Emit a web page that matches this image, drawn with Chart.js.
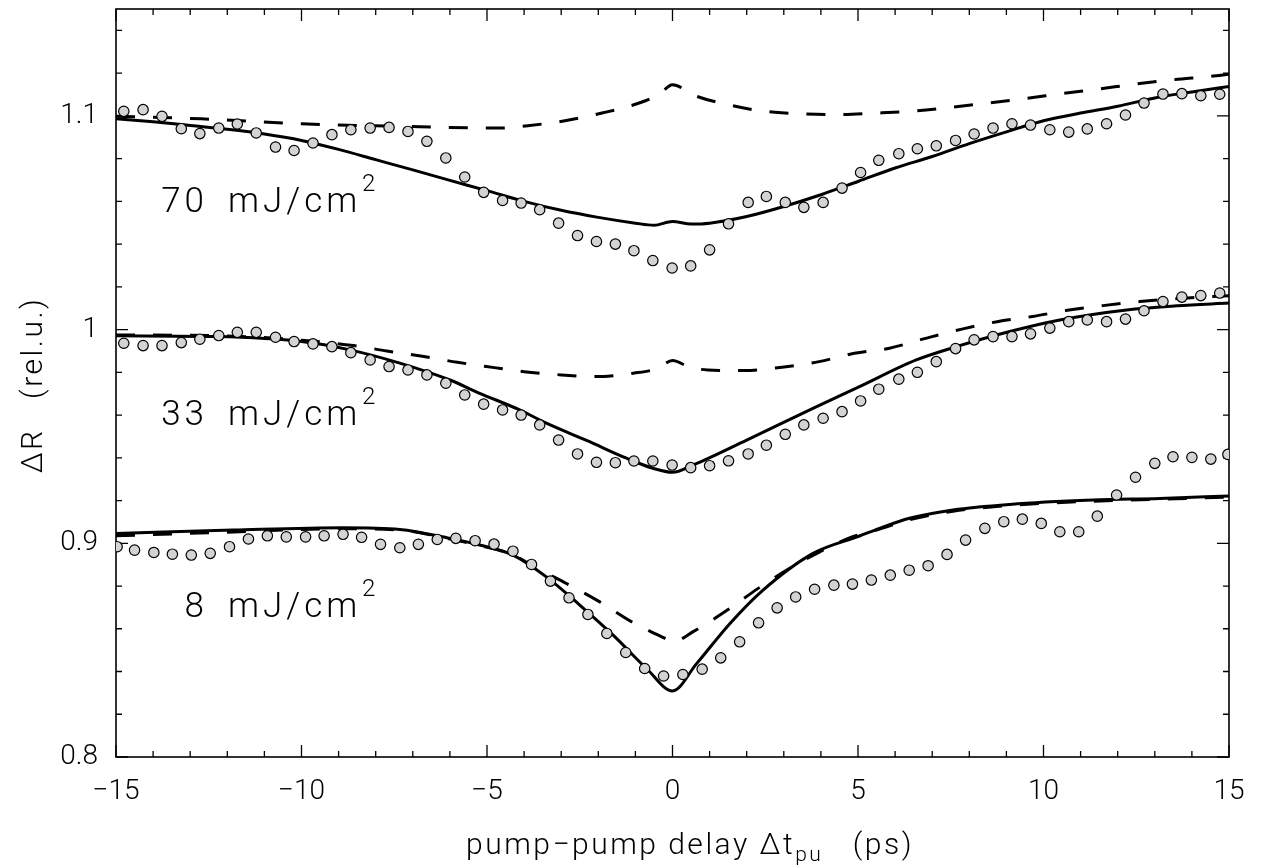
<!DOCTYPE html>
<html><head><meta charset="utf-8">
<script src="https://cdn.jsdelivr.net/npm/chart.js@4.4.0/dist/chart.umd.min.js"></script>
<style>html,body{margin:0;padding:0;background:#fff;}#wrap{width:1261px;height:868px;}</style>
</head><body><div id="wrap"><canvas id="c" width="1261" height="868"></canvas></div>
<script>
// ---------- data ----------
const xTicks = [-15, -10, -5, 0, 5, 10, 15];
const yTicks = [0.8, 0.9, 1.0, 1.1];
const fluences = ['70', '33', '8'];

const xA = [-14.79,-14.27,-13.76,-13.24,-12.74,-12.23,-11.73,-11.22,-10.70,-10.20,
  -9.69,-9.18,-8.67,-8.15,-7.64,-7.13,-6.62,-6.11,-5.60,-5.09,
  -4.58,-4.08,-3.58,-3.07,-2.56,-2.05,-1.54,-1.04,-0.53,-0.01,
  0.49,1.00,1.51,2.04,2.53,3.04,3.54,4.06,4.57,5.07,
  5.56,6.10,6.60,7.11,7.63,8.13,8.64,9.15,9.65,10.17,
  10.68,11.18,11.70,12.21,12.71,13.22,13.73,14.24,14.75];
const dots70 = [1.1021,1.1029,1.0998,1.0940,1.0917,1.0943,1.0962,1.0920,1.0854,1.0838,
  1.0873,1.0912,1.0935,1.0943,1.0946,1.0927,1.0881,1.0803,1.0714,1.0642,
  1.0604,1.0592,1.0561,1.0498,1.0440,1.0412,1.0400,1.0369,1.0323,1.0288,
  1.0298,1.0373,1.0495,1.0595,1.0623,1.0595,1.0572,1.0595,1.0662,1.0735,
  1.0792,1.0823,1.0846,1.0860,1.0885,1.0915,1.0943,1.0963,1.0957,1.0935,
  1.0924,1.0939,1.0963,1.1004,1.1060,1.1102,1.1104,1.1094,1.1101];
const dots33 = [0.9936,0.9925,0.9925,0.9939,0.9955,0.9972,0.9987,0.9987,0.9964,0.9944,
  0.9933,0.9920,0.9892,0.9858,0.9827,0.9811,0.9788,0.9749,0.9694,0.9651,
  0.9624,0.9600,0.9554,0.9483,0.9418,0.9379,0.9377,0.9385,0.9385,0.9366,
  0.9354,0.9363,0.9386,0.9418,0.9459,0.9510,0.9554,0.9585,0.9616,0.9666,
  0.9721,0.9768,0.9800,0.9850,0.9911,0.9952,0.9967,0.9967,0.9980,1.0007,
  1.0037,1.0045,1.0037,1.0049,1.0088,1.0131,1.0152,1.0159,1.0171];
const xB = [-14.97,-14.50,-13.98,-13.48,-12.97,-12.46,-11.94,-11.43,-10.92,-10.41,
  -9.89,-9.39,-8.88,-8.38,-7.87,-7.35,-6.85,-6.34,-5.84,-5.32,
  -4.81,-4.30,-3.80,-3.29,-2.79,-2.28,-1.77,-1.26,-0.75,-0.24,
  0.28,0.80,1.30,1.81,2.32,2.82,3.32,3.83,4.35,4.85,
  5.36,5.87,6.38,6.89,7.40,7.90,8.42,8.93,9.43,9.94,
  10.44,10.95,11.45,11.97,12.48,13.00,13.49,14.00,14.51,14.97];
const dots8 = [0.8984,0.8968,0.8957,0.8949,0.8945,0.8953,0.8984,0.9020,0.9035,0.9030,
  0.9030,0.9035,0.9042,0.9028,0.8995,0.8979,0.8995,0.9018,0.9023,0.9012,
  0.8996,0.8963,0.8901,0.8823,0.8745,0.8667,0.8578,0.8489,0.8414,0.8379,
  0.8386,0.8411,0.8464,0.8539,0.8628,0.8698,0.8749,0.8785,0.8804,0.8809,
  0.8828,0.8851,0.8874,0.8895,0.8948,0.9015,0.9070,0.9101,0.9113,0.9093,
  0.9054,0.9054,0.9127,0.9226,0.9309,0.9374,0.9405,0.9402,0.9394,0.9416];

const fit70X = [-15,-14,-13,-12,-11,-10,-9,-8,-7,-6,-5,-4,-3,-2,-1,-0.5,0,0.5,1,2,3,4,5,6,7,8,9,10,11,12,13,14,15];
const fit70 = [1.0986,1.0972,1.0955,1.0937,1.0915,1.0885,1.0843,1.0795,1.0747,1.0698,1.0650,1.0600,1.0558,1.0525,1.0498,1.0488,1.0506,1.0494,1.0498,1.0529,1.0576,1.0631,1.0693,1.0756,1.0810,1.0870,1.0925,1.0977,1.1013,1.1045,1.1084,1.1112,1.1138];
const dash70X = [-15,-12.7,-10,-7.35,-4.66,-3.9,-2.9,-1.9,-0.9,-0.35,0,0.6,1.5,2.5,3.5,4.5,5.5,6.6,7.5,8.5,9.5,10.5,11.5,12.5,13.5,14.5,15];
const dash70 = [1.0998,1.0986,1.0963,1.0951,1.0943,1.0954,1.0977,1.1013,1.1060,1.1102,1.1146,1.1095,1.1052,1.1021,1.1010,1.1006,1.1013,1.1024,1.1040,1.1060,1.1081,1.1104,1.1126,1.1149,1.1169,1.1185,1.1195];

const fit33X = [-15,-12.3,-10,-8.7,-7.35,-6,-5.2,-4.12,-3.4,-2.3,-1.24,-0.53,0,0.55,2,3.8,5.04,6.57,7.65,9.09,10.44,12.24,13.59,15];
const fit33 = [0.9971,0.9967,0.9944,0.9905,0.9843,0.9764,0.9702,0.9624,0.9562,0.9480,0.9398,0.9351,0.9332,0.9366,0.9483,0.9632,0.9733,0.9858,0.9920,0.9991,1.0045,1.0092,1.0111,1.0124];
const dash33X = [-15,-12,-10,-8.6,-7.7,-6.7,-5.8,-4.8,-4.0,-3.0,-2.05,-1.05,-0.4,0,0.45,0.95,1.95,2.95,3.95,4.9,5.85,6.85,7.8,8.75,9.7,10.6,11.6,12.6,13.8,15];
const dash33 = [0.9975,0.9970,0.9950,0.9925,0.9900,0.9874,0.9847,0.9822,0.9803,0.9788,0.9780,0.9796,0.9818,0.9855,0.9825,0.9811,0.9808,0.9824,0.9850,0.9889,0.9913,0.9960,1.0002,1.0037,1.0061,1.0089,1.0112,1.0131,1.0147,1.0158];

const fit8X = [-15,-11.85,-8.88,-7.35,-6,-5.2,-4.3,-3.4,-2.5,-1.6,-0.7,0,0.65,1.55,2.44,3.79,5.04,5.58,6.39,7.56,9.09,11.33,13.13,15];
const fit8 = [0.9046,0.9062,0.9073,0.9065,0.9023,0.8992,0.8945,0.8843,0.8711,0.8570,0.8414,0.8309,0.8437,0.8625,0.8781,0.8953,0.9034,0.9070,0.9117,0.9156,0.9182,0.9202,0.9210,0.9221];
const dash8X = [-15,-12,-9,-7.35,-6,-5.2,-4.3,-3.6,-2.86,-1.96,-1.09,-0.23,0,0.58,1.5,2.31,3.07,3.97,4.77,5.58,6.39,7.56,9.09,11.33,13.13,15];
const dash8 = [0.9035,0.9052,0.9068,0.9062,0.9020,0.8990,0.8945,0.8878,0.8812,0.8726,0.8632,0.8557,0.8539,0.8589,0.8690,0.8789,0.8874,0.8960,0.9025,0.9066,0.9110,0.9150,0.9177,0.9197,0.9206,0.9216];

// ---------- helpers ----------
const pts = (xs, ys) => xs.map((x, i) => ({x, y: ys[i]}));
const FONT = 'Roboto, "DejaVu Sans", sans-serif';
const dotDS = (xs, ys) => ({type:'scatter', data: pts(xs, ys), showLine:false, order:0,
  pointRadius:5.2, pointBorderWidth:1.2, pointBackgroundColor:'#d3d3d3', pointBorderColor:'#000'});
const lineDS = (xs, ys, dashed) => ({type:'line', data: pts(xs, ys), order:1, pointRadius:0,
  borderColor:'#000', borderWidth:3, fill:false, cubicInterpolationMode:'monotone',
  borderDash: dashed ? [19,18] : [], borderCapStyle:'butt'});

const decor = {
  id:'decor',
  beforeDatasetsDraw(chart){
    const {ctx, chartArea:a, scales:{x, y}} = chart;
    ctx.save();
    ctx.strokeStyle = '#000';
    ctx.lineWidth = 1.3;
    ctx.beginPath();
    for (let v = -15; v <= 15; v++) {
      const px = x.getPixelForValue(v), L = (v % 5 === 0) ? 12 : 6;
      ctx.moveTo(px, a.bottom); ctx.lineTo(px, a.bottom - L);
      ctx.moveTo(px, a.top); ctx.lineTo(px, a.top + L);
    }
    for (let i = 0; i <= 17; i++) {
      const py = y.getPixelForValue(0.8 + i * 0.02), L = (i % 5 === 0) ? 12 : 6;
      ctx.moveTo(a.left, py); ctx.lineTo(a.left + L, py);
      ctx.moveTo(a.right, py); ctx.lineTo(a.right - L, py);
    }
    ctx.stroke();
    ctx.lineWidth = 1.6;
    ctx.strokeRect(a.left, a.top, a.right - a.left, a.bottom - a.top);
    ctx.restore();
  },
  afterDraw(chart){
    const {ctx} = chart;
    ctx.save();
    ctx.fillStyle = '#000';
    ctx.textBaseline = 'alphabetic';
    // fluence labels
    const bases = [211.7, 425, 617.3];
    fluences.forEach((f, i) => {
      ctx.font = '300 35px ' + FONT;
      ctx.letterSpacing = '4px';
      ctx.textAlign = 'right';
      ctx.fillText(f, 208, bases[i]);
      ctx.textAlign = 'left';
      ctx.fillText('mJ/cm', 228, bases[i]);
      ctx.letterSpacing = '0px';
      ctx.font = '300 24px ' + FONT;
      ctx.fillText('2', 362, bases[i] - 21);
    });
    // y title
    ctx.save();
    ctx.translate(42, 385);
    ctx.rotate(-Math.PI / 2);
    ctx.font = '300 30px ' + FONT;
    ctx.letterSpacing = '2.5px';
    ctx.textAlign = 'center';
    ctx.fillText('\u0394R   (rel.u.)', 0, 0);
    ctx.restore();
    // x title with subscript
    ctx.letterSpacing = '2.5px';
    ctx.font = '300 30px ' + FONT;
    const p1 = 'pump\u2212pump delay \u0394t', sub = 'pu', p2 = '   (ps)';
    const w1 = ctx.measureText(p1).width, w3 = ctx.measureText(p2).width;
    ctx.font = '300 21px ' + FONT;
    const w2 = ctx.measureText(sub).width;
    const total = w1 + w2 + w3;
    let x0 = 690 - total / 2;
    const base = 854;
    ctx.textAlign = 'left';
    ctx.font = '300 30px ' + FONT;
    ctx.fillText(p1, x0, base);
    ctx.font = '300 21px ' + FONT;
    ctx.fillText(sub, x0 + w1, base + 7);
    ctx.font = '300 30px ' + FONT;
    ctx.fillText(p2, x0 + w1 + w2, base);
    ctx.restore();
  }
};

new Chart(document.getElementById('c'), {
  type: 'scatter',
  data: { datasets: [
    dotDS(xA, dots70), dotDS(xA, dots33), dotDS(xB, dots8),
    lineDS(fit70X, fit70, false), lineDS(dash70X, dash70, true),
    lineDS(fit33X, fit33, false), lineDS(dash33X, dash33, true),
    lineDS(fit8X, fit8, false), lineDS(dash8X, dash8, true)
  ]},
  options: {
    responsive:false, animation:false, devicePixelRatio:1,
    layout:{padding:{top:9, right:32, left:0, bottom:0}},
    plugins:{legend:{display:false}, tooltip:{enabled:false}},
    scales:{
      x:{type:'linear', min:-15, max:15,
        afterBuildTicks: s => { s.ticks = xTicks.map(v => ({value:v})); },
        afterFit: s => { s.height = 111; s.paddingLeft = 0; s.paddingRight = 0; },
        grid:{display:false, drawTicks:false}, border:{display:false},
        ticks:{color:'#000', padding:18, maxRotation:0, autoSkip:false,
          font:{family:FONT, size:28, weight:300},
          callback: v => String(v).replace('-', '\u2212')}},
      y:{type:'linear', min:0.8, max:1.15,
        afterBuildTicks: s => { s.ticks = yTicks.map(v => ({value:v})); },
        afterFit: s => { s.width = 116; s.paddingTop = 0; s.paddingBottom = 0; },
        grid:{display:false, drawTicks:false}, border:{display:false},
        ticks:{color:'#000', padding:18, autoSkip:false,
          font:{family:FONT, size:28, weight:300},
          callback: v => (Math.abs(v - 1) < 1e-9 ? '1' : v.toFixed(1))}}
    }
  },
  plugins:[decor]
});
</script></body></html>
